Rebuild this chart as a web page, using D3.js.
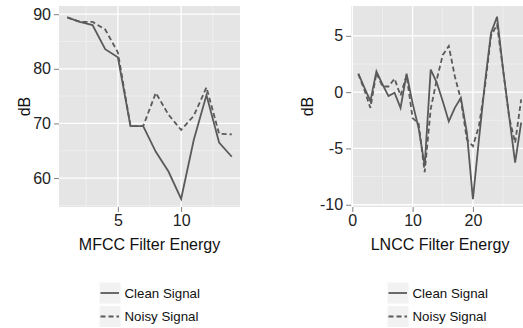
<!DOCTYPE html>
<html>
<head>
<meta charset="utf-8">
<script src="https://cdn.jsdelivr.net/npm/d3@7"></script>
<style>
  html, body { margin: 0; padding: 0; background: #fff; }
  svg { display: block; font-family: "Liberation Sans", Arial, sans-serif; }
</style>
</head>
<body>
<svg id="chart" width="523" height="328"></svg>
<script>
// ---- Data ----
const mfccX = [1, 2, 3, 4, 5, 6, 7, 8, 9, 10, 11, 12, 13, 14];
const mfccClean = [89.4, 88.6, 88.0, 83.6, 82.1, 69.5, 69.5, 64.8, 61.2, 56.2, 67.0, 75.2, 66.5, 63.9];
const mfccNoisy = [89.4, 88.6, 88.6, 87.2, 83.0, 69.5, 69.5, 75.6, 71.6, 68.8, 71.4, 76.6, 68.1, 68.0];

const lnccX = [1, 2, 3, 4, 5, 6, 7, 8, 9, 10, 11, 12, 13, 14, 15, 16, 17, 18, 19, 20, 21, 22, 23, 24, 25, 26, 27, 28];
const lnccClean = [1.65, 0.4, -0.8, 1.85, 0.7, -0.35, -0.05, -1.4, 1.65, -1.0, -3.2, -6.55, 2.0, 0.85, -0.8, -2.6, -1.4, -0.5, -3.6, -9.5, -4.2, 0.85, 5.25, 6.7, 2.0, -2.1, -6.25, -2.7];
const lnccNoisy = [1.6, 0.2, -1.4, 1.7, 0.5, 0.5, 1.2, -0.3, 1.5, -2.3, -2.8, -7.1, -1.5, 1.1, 3.3, 4.1, 1.4, -0.65, -4.2, -4.8, -3.0, 0.5, 5.0, 6.0, 2.0, -2.2, -4.5, -0.65];

const mfccXTicks = [5, 10];
const mfccXMinor = [2.5, 7.5, 12.5];
const mfccYTicks = [60, 70, 80, 90];
const mfccYMinor = [55, 65, 75, 85];

const lnccXTicks = [0, 10, 20];
const lnccXMinor = [5, 15, 25];
const lnccYTicks = [-10, -5, 0, 5];
const lnccYMinor = [-7.5, -2.5, 2.5];

const seriesNames = ["Clean Signal", "Noisy Signal"];
const xTitles = ["MFCC Filter Energy", "LNCC Filter Energy"];
const yTitle = "dB";

// ---- Styles ----
const lineColor = "#5a5a5a";
const dash = "5,3";
const svg = d3.select("#chart");

function panel(cfg) {
  const { x, y, xTicks, xMinor, yTicks, yMinor, xs, clean, noisy, xTitle, yTitleX, legendX } = cfg;
  const [x0, x1] = x.range();
  const [y1, y0] = y.range();
  const g = svg.append("g");

  // clip
  const id = "clip" + Math.round(x0);
  svg.append("defs").append("clipPath").attr("id", id)
    .append("rect").attr("x", x0).attr("y", y0).attr("width", x1 - x0).attr("height", y1 - y0);

  g.append("rect").attr("x", x0).attr("y", y0).attr("width", x1 - x0).attr("height", y1 - y0)
    .attr("fill", "#e5e5e5");

  const grid = g.append("g").attr("clip-path", `url(#${id})`);
  grid.selectAll(".vmin").data(xMinor).join("line")
    .attr("x1", d => x(d)).attr("x2", d => x(d)).attr("y1", y0).attr("y2", y1)
    .attr("stroke", "#f2f2f2").attr("stroke-width", 0.7);
  grid.selectAll(".hmin").data(yMinor).join("line")
    .attr("x1", x0).attr("x2", x1).attr("y1", d => y(d)).attr("y2", d => y(d))
    .attr("stroke", "#f2f2f2").attr("stroke-width", 0.7);
  grid.selectAll(".vmaj").data(xTicks).join("line")
    .attr("x1", d => x(d)).attr("x2", d => x(d)).attr("y1", y0).attr("y2", y1)
    .attr("stroke", "#ffffff").attr("stroke-width", 1.3);
  grid.selectAll(".hmaj").data(yTicks).join("line")
    .attr("x1", x0).attr("x2", x1).attr("y1", d => y(d)).attr("y2", d => y(d))
    .attr("stroke", "#ffffff").attr("stroke-width", 1.3);

  // lines
  const line = d3.line().x((d, i) => x(xs[i])).y(d => y(d));
  grid.append("path").datum(noisy).attr("d", line).attr("fill", "none")
    .attr("stroke", lineColor).attr("stroke-width", 1.8).attr("stroke-dasharray", dash);
  grid.append("path").datum(clean).attr("d", line).attr("fill", "none")
    .attr("stroke", lineColor).attr("stroke-width", 1.8);

  // axes
  const xAxis = d3.axisBottom(x).tickValues(xTicks).tickSize(5).tickPadding(3).tickFormat(d3.format("d"));
  const ax = g.append("g").attr("transform", `translate(0,${y1})`).call(xAxis);
  const yAxis = d3.axisLeft(y).tickValues(yTicks).tickSize(5).tickPadding(3).tickFormat(d => d < 0 ? "-" + Math.abs(d) : d);
  const ay = g.append("g").attr("transform", `translate(${x0},0)`).call(yAxis);
  [ax, ay].forEach(a => {
    a.select(".domain").remove();
    a.selectAll(".tick line").attr("stroke", "#7f7f7f");
    a.selectAll(".tick text").attr("fill", "#222").attr("font-size", 16)
      .attr("font-family", "Liberation Sans, Arial, sans-serif");
  });

  g.append("text").attr("x", (x0 + Math.min(x1, 529)) / 2).attr("y", 250)
    .attr("text-anchor", "middle").attr("font-size", 16).attr("fill", "#111").text(xTitle);
  g.append("text").attr("transform", `translate(${yTitleX},${(y0 + y1) / 2}) rotate(-90)`)
    .attr("text-anchor", "middle").attr("font-size", 16).attr("fill", "#111").text(yTitle);

  // legend
  const lg = g.append("g").attr("transform", `translate(${legendX},282)`);
  const rows = lg.selectAll("g").data(seriesNames).join("g")
    .attr("transform", (d, i) => `translate(0,${i * 23.5})`);
  rows.append("rect").attr("width", 22).attr("height", 22).attr("fill", "#f2f2f2")
    .attr("stroke", "#fff").attr("stroke-width", 1);
  rows.append("line").attr("x1", 1.5).attr("x2", 20).attr("y1", 11).attr("y2", 11)
    .attr("stroke", lineColor).attr("stroke-width", 1.8)
    .attr("stroke-dasharray", (d, i) => i === 1 ? dash : null);
  rows.append("text").attr("x", 25.5).attr("y", 11).attr("dy", "0.36em")
    .attr("font-size", 13.3).attr("fill", "#111").text(d => d);
}

panel({
  x: d3.scaleLinear().domain([0.35, 14.65]).range([59, 240]),
  y: d3.scaleLinear().domain([54.7, 91.5]).range([207, 6]),
  xTicks: mfccXTicks, xMinor: mfccXMinor, yTicks: mfccYTicks, yMinor: mfccYMinor,
  xs: mfccX, clean: mfccClean, noisy: mfccNoisy,
  xTitle: xTitles[0], yTitleX: 29.5, legendX: 99
});

panel({
  x: d3.scaleLinear().domain([-0.2, 29.35]).range([351.1, 529.3]),
  y: d3.scaleLinear().domain([-10.2, 7.65]).range([207, 6]),
  xTicks: lnccXTicks, xMinor: lnccXMinor, yTicks: lnccYTicks, yMinor: lnccYMinor,
  xs: lnccX, clean: lnccClean, noisy: lnccNoisy,
  xTitle: xTitles[1], yTitleX: 312.5, legendX: 387
});
</script>
</body>
</html>
